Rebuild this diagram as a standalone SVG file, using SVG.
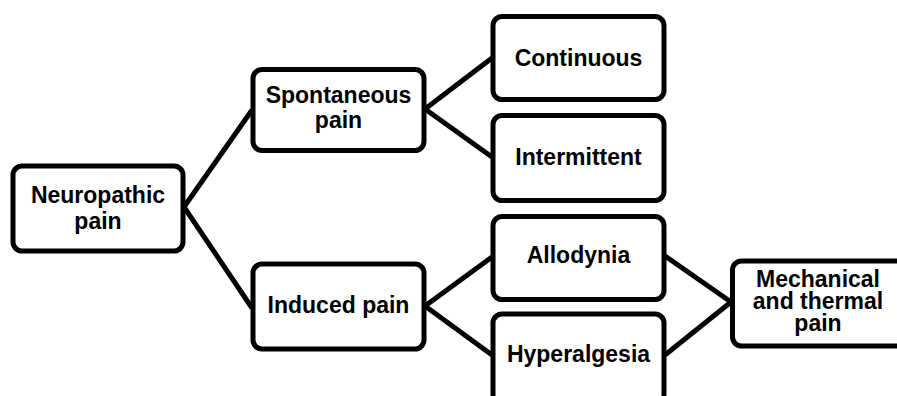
<svg xmlns="http://www.w3.org/2000/svg" width="897" height="396" viewBox="0 0 897 396">
<style>
.box{fill:#fff;stroke:#000;stroke-width:5}
.lbl{font-family:"Liberation Sans",Arial,sans-serif;font-weight:bold;font-size:23px;fill:#000;text-anchor:middle}
.con{stroke:#000;stroke-width:5;fill:none}
</style>
<rect width="897" height="396" fill="#fff"/>
<g id="connectors">
<line class="con" x1="184" y1="207" x2="252" y2="110"/>
<line class="con" x1="184" y1="207" x2="252" y2="308"/>
<line class="con" x1="425" y1="109" x2="492" y2="58"/>
<line class="con" x1="425" y1="109" x2="492" y2="157"/>
<line class="con" x1="425" y1="306" x2="492" y2="257"/>
<line class="con" x1="425" y1="306" x2="492" y2="355"/>
<line class="con" x1="665" y1="256" x2="731" y2="302"/>
<line class="con" x1="665" y1="355" x2="731" y2="302"/>
</g>
<g id="neuropathic">
<rect class="box" x="13" y="166" width="170" height="85" rx="9"/>
<text class="lbl" x="98" y="203">Neuropathic</text>
<text class="lbl" x="98" y="229">pain</text>
</g>
<g id="spontaneous">
<rect class="box" x="253" y="69.5" width="171" height="81" rx="9"/>
<text class="lbl" x="338.5" y="103">Spontaneous</text>
<text class="lbl" x="338.5" y="128">pain</text>
</g>
<g id="continuous">
<rect class="box" x="493" y="16.5" width="171" height="83" rx="9"/>
<text class="lbl" x="578.5" y="66">Continuous</text>
</g>
<g id="intermittent">
<rect class="box" x="493" y="115.5" width="171" height="85" rx="9"/>
<text class="lbl" x="578.5" y="165">Intermittent</text>
</g>
<g id="induced">
<rect class="box" x="253" y="264" width="171" height="85" rx="9"/>
<text class="lbl" x="338.5" y="313">Induced pain</text>
</g>
<g id="allodynia">
<rect class="box" x="493" y="216.5" width="171" height="83" rx="9"/>
<text class="lbl" x="578.5" y="263">Allodynia</text>
</g>
<g id="hyperalgesia">
<rect class="box" x="493" y="314" width="171" height="90" rx="9"/>
<text class="lbl" x="578.5" y="362">Hyperalgesia</text>
</g>
<g id="mechanical">
<rect class="box" x="732.5" y="261" width="200" height="85" rx="9"/>
<text class="lbl" x="818" y="287">Mechanical</text>
<text class="lbl" x="818" y="309">and thermal</text>
<text class="lbl" x="818" y="331">pain</text>
</g>
</svg>
